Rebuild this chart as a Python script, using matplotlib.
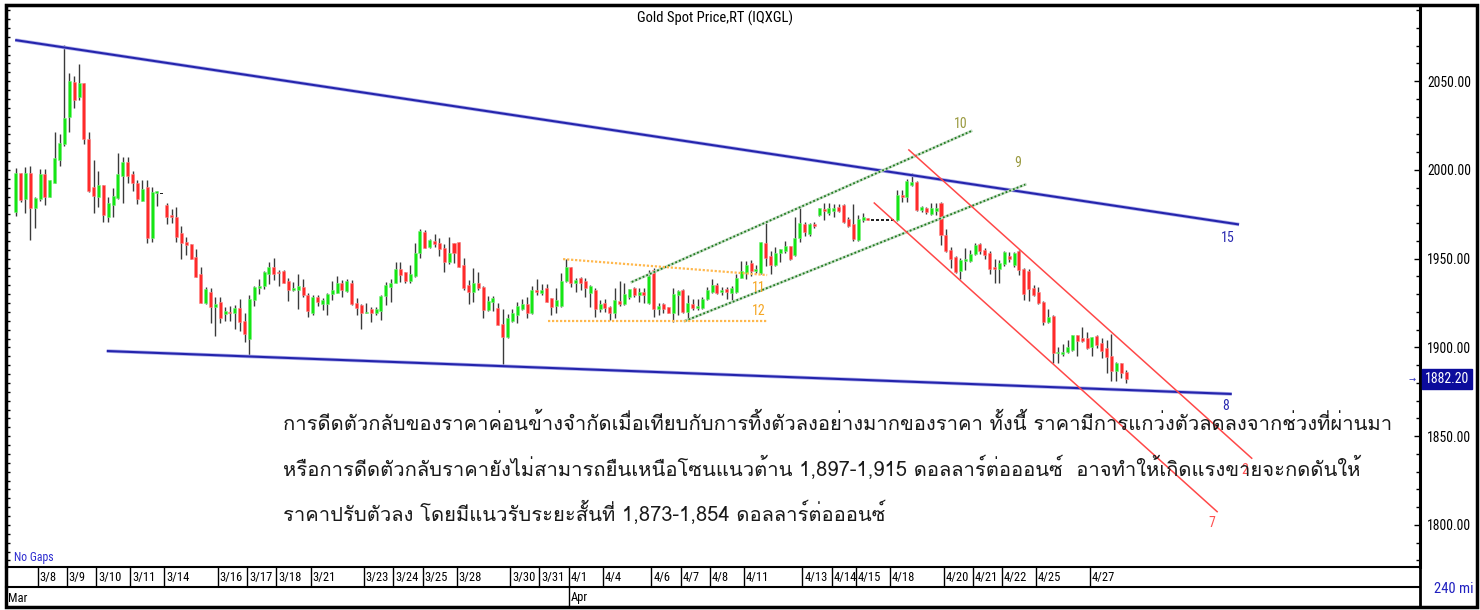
import os

import matplotlib
matplotlib.use("Agg")
import matplotlib.pyplot as plt
import matplotlib.transforms as mtransforms
from matplotlib import font_manager
from matplotlib.font_manager import FontProperties
from matplotlib.ft2font import FT2Font
from matplotlib.patches import Rectangle
from matplotlib.lines import Line2D
from matplotlib.ticker import MultipleLocator
import numpy as np


W, H = 1480, 610

# 240-minute gold spot candles, 7 Mar - 27 Apr
OPEN = [
    1976.5, 1998.5, 1983.4, 1998.5, 1978.4, 1983.4, 1997.5, 1984.9, 1992.8, 2005.6,
    2014.6, 2029.7, 2049.8, 2041.3, 2048.8, 2017.5, 1990.6, 1984.6, 1991.5, 1973.7,
    1980.2, 1984.0, 1996.6, 2004.3, 1997.5, 1992.5, 1982.5, 1990.6, 1961.5, 1986.8,
    1986.8, 1980.4, 1974.2, 1973.3, 1964.3, 1959.6, 1958.3, 1951.1, 1941.4, 1924.8,
    1931.4, 1922.7, 1925.4, 1918.7, 1920.2, 1919.3, 1922.4, 1915.1, 1904.6, 1926.7,
    1933.3, 1934.6, 1941.4, 1945.5, 1942.7, 1943.3, 1937.4, 1932.4, 1932.4, 1934.2,
    1929.6, 1919.3, 1928.3, 1924.5, 1924.5, 1930.1, 1930.9, 1936.1, 1932.0, 1936.1,
    1925.2, 1923.9, 1919.3, 1921.5, 1919.6, 1920.7, 1929.2, 1934.2, 1936.5, 1944.0,
    1942.7, 1937.4, 1940.4, 1953.4, 1965.2, 1956.8, 1960.2, 1958.7, 1956.2, 1948.3,
    1958.7, 1959.3, 1946.5, 1935.2, 1931.4, 1936.5, 1934.2, 1921.1, 1925.8, 1922.4,
    1913.2, 1906.1, 1915.1, 1918.3, 1921.5, 1924.3, 1919.3, 1932.4, 1930.5, 1933.3,
    1927.7, 1923.4, 1923.4, 1937.4, 1945.2, 1936.5, 1939.0, 1937.4, 1930.9, 1932.4,
    1921.5, 1925.2, 1923.0, 1919.3, 1926.3, 1924.5, 1928.3, 1933.3, 1929.6, 1931.4,
    1924.9, 1943.6, 1921.5, 1924.3, 1922.6, 1919.6, 1929.6, 1932.4, 1920.2, 1924.3,
    1922.1, 1922.1, 1927.3, 1931.4, 1935.2, 1931.1, 1932.8, 1930.9, 1931.4, 1939.3,
    1941.8, 1947.4, 1943.1, 1942.1, 1958.7, 1951.5, 1946.5, 1953.4, 1954.5, 1957.2,
    1952.1, 1961.5, 1969.6, 1963.9, 1969.6, 1974.6, 1977.8, 1975.9, 1977.1, 1979.3,
    1980.3, 1972.2, 1969.6, 1960.6, 1971.8, 1972.8, 1971.8, 1971.8, 1971.8, 1971.8,
    1971.8, 1971.8, 1985.9, 1984.9, 1991.5, 1993.4, 1977.5, 1978.4, 1975.2, 1977.1,
    1981.2, 1963.4, 1954.9, 1951.2, 1943.3, 1948.9, 1948.9, 1952.7, 1958.3, 1954.9,
    1953.4, 1945.2, 1944.0, 1947.0, 1951.5, 1946.5, 1954.5, 1944.0, 1943.3, 1933.3,
    1931.4, 1925.8, 1914.5, 1917.7, 1896.7, 1896.3, 1897.6, 1898.6, 1907.0, 1905.2,
    1905.2, 1900.1, 1906.5, 1902.4, 1899.5, 1895.2, 1886.9, 1891.4, 1886.4,
]
HIGH = [
    2001.3, 1998.5, 2001.8, 2002.4, 1984.9, 2000.3, 2000.3, 1994.3, 2021.6, 2020.3,
    2070.4, 2054.4, 2052.9, 2059.5, 2048.8, 2021.6, 2005.6, 1999.6, 1991.5, 1984.6,
    1989.6, 2009.4, 2007.5, 2007.5, 1999.4, 1994.3, 1994.3, 1994.3, 1990.6, 1988.3,
    1986.8, 1981.2, 1977.8, 1979.3, 1968.4, 1962.4, 1958.3, 1955.3, 1945.5, 1934.2,
    1933.3, 1928.6, 1928.3, 1923.0, 1923.4, 1923.9, 1927.3, 1919.3, 1929.6, 1934.6,
    1938.6, 1943.3, 1948.3, 1950.6, 1943.6, 1943.6, 1939.3, 1937.0, 1941.4, 1938.6,
    1930.5, 1929.6, 1929.6, 1928.0, 1930.5, 1937.4, 1940.3, 1938.0, 1938.4, 1938.0,
    1927.7, 1924.3, 1925.2, 1922.6, 1923.0, 1929.6, 1937.0, 1938.6, 1948.3, 1948.3,
    1942.7, 1946.5, 1958.7, 1966.6, 1966.2, 1960.9, 1963.8, 1961.5, 1958.2, 1962.4,
    1958.7, 1959.3, 1950.2, 1938.0, 1945.0, 1942.4, 1934.6, 1929.0, 1929.0, 1924.9,
    1921.5, 1918.7, 1921.5, 1925.8, 1927.1, 1928.3, 1934.6, 1938.4, 1935.8, 1935.8,
    1928.0, 1933.3, 1941.8, 1949.7, 1945.2, 1939.0, 1939.9, 1939.0, 1935.2, 1933.3,
    1926.7, 1927.3, 1923.4, 1933.3, 1937.4, 1936.5, 1932.8, 1934.2, 1933.3, 1933.3,
    1943.6, 1944.6, 1925.2, 1925.2, 1922.6, 1933.3, 1932.4, 1932.8, 1929.6, 1927.1,
    1927.1, 1928.6, 1933.9, 1938.4, 1936.5, 1933.9, 1933.9, 1934.6, 1941.4, 1948.7,
    1948.7, 1949.3, 1946.5, 1959.6, 1970.3, 1954.4, 1956.4, 1955.3, 1960.2, 1957.2,
    1973.3, 1978.4, 1970.9, 1970.3, 1970.9, 1978.4, 1981.2, 1981.2, 1980.8, 1980.8,
    1980.8, 1973.3, 1980.7, 1974.6, 1975.9, 1973.0, 1971.8, 1971.8, 1971.8, 1971.8,
    1971.8, 1988.7, 1988.7, 1994.8, 1998.5, 1994.0, 1979.7, 1979.3, 1981.2, 1981.2,
    1982.1, 1966.6, 1956.4, 1951.5, 1950.2, 1955.9, 1954.9, 1958.7, 1958.7, 1955.9,
    1954.5, 1949.7, 1949.3, 1954.5, 1954.0, 1954.0, 1954.9, 1944.6, 1944.0, 1935.2,
    1934.2, 1926.2, 1921.5, 1918.3, 1900.4, 1902.0, 1904.2, 1907.0, 1907.0, 1911.4,
    1908.9, 1906.1, 1907.0, 1905.2, 1904.2, 1907.6, 1892.0, 1891.4, 1887.3,
]
LOW = [
    1974.2, 1982.1, 1975.5, 1960.5, 1967.5, 1982.5, 1980.2, 1984.6, 1992.5, 2002.2,
    2013.5, 2021.6, 2034.7, 2039.4, 2014.6, 1987.8, 1975.5, 1979.3, 1970.9, 1970.5,
    1973.7, 1983.4, 1981.6, 1992.5, 1988.3, 1980.6, 1982.5, 1958.6, 1959.6, 1979.7,
    1986.8, 1969.4, 1970.3, 1959.6, 1949.6, 1952.1, 1949.6, 1939.5, 1924.8, 1924.5,
    1913.6, 1906.5, 1913.6, 1915.1, 1915.1, 1910.2, 1909.5, 1903.3, 1895.2, 1923.5,
    1930.1, 1932.9, 1935.8, 1938.0, 1934.6, 1936.3, 1926.3, 1932.0, 1921.5, 1928.3,
    1917.3, 1918.3, 1923.4, 1921.1, 1918.3, 1926.7, 1930.5, 1928.6, 1931.4, 1923.9,
    1918.3, 1910.2, 1919.3, 1914.2, 1918.3, 1915.5, 1923.9, 1925.8, 1936.1, 1937.0,
    1936.1, 1936.1, 1939.9, 1950.6, 1955.9, 1955.9, 1956.8, 1951.7, 1942.4, 1947.0,
    1947.4, 1945.5, 1932.4, 1924.3, 1925.8, 1932.4, 1916.4, 1920.7, 1920.7, 1912.7,
    1890.1, 1905.2, 1914.2, 1913.6, 1921.1, 1916.4, 1918.7, 1929.6, 1929.6, 1925.8,
    1918.3, 1919.3, 1923.0, 1937.0, 1934.2, 1931.4, 1932.4, 1928.3, 1922.6, 1917.3,
    1920.2, 1920.2, 1915.5, 1916.4, 1923.4, 1923.9, 1927.1, 1928.6, 1925.8, 1924.9,
    1924.5, 1917.3, 1918.3, 1919.3, 1919.3, 1914.5, 1918.3, 1919.3, 1915.5, 1921.1,
    1921.1, 1921.5, 1926.7, 1930.9, 1930.1, 1929.6, 1927.1, 1926.7, 1930.5, 1939.0,
    1938.4, 1940.3, 1941.8, 1941.4, 1945.9, 1941.4, 1945.9, 1948.3, 1953.1, 1949.3,
    1951.5, 1959.6, 1962.8, 1962.8, 1967.1, 1974.1, 1971.8, 1974.6, 1973.3, 1976.5,
    1970.3, 1967.7, 1960.2, 1960.2, 1970.9, 1971.6, 1971.8, 1971.8, 1971.8, 1971.8,
    1971.8, 1971.4, 1982.1, 1982.1, 1991.0, 1977.1, 1976.5, 1975.2, 1974.6, 1974.6,
    1957.7, 1954.0, 1944.6, 1941.8, 1938.4, 1943.6, 1948.3, 1952.1, 1952.7, 1949.7,
    1941.4, 1936.5, 1936.1, 1945.9, 1948.3, 1945.5, 1940.8, 1926.7, 1926.3, 1929.0,
    1924.5, 1912.7, 1913.6, 1891.4, 1891.4, 1895.2, 1896.7, 1898.2, 1895.2, 1903.3,
    1899.0, 1895.2, 1899.5, 1893.9, 1885.5, 1881.3, 1881.3, 1882.6, 1880.2,
]
CLOSE = [
    1998.5, 1983.1, 1998.5, 1978.4, 1984.4, 1997.5, 1984.6, 1994.3, 2006.6, 2015.4,
    2029.5, 2050.3, 2039.4, 2048.8, 2017.5, 1988.3, 1985.3, 1991.5, 1974.6, 1981.6,
    1985.5, 1997.5, 2004.7, 1996.6, 1992.5, 1983.4, 1989.3, 1961.5, 1987.8, 1988.3,
    1986.8, 1973.7, 1973.7, 1962.4, 1958.6, 1957.7, 1949.6, 1939.9, 1925.2, 1932.7,
    1923.0, 1924.5, 1916.4, 1920.5, 1919.3, 1922.4, 1914.5, 1907.4, 1927.3, 1934.2,
    1934.6, 1942.7, 1945.5, 1941.4, 1941.8, 1936.5, 1932.4, 1933.7, 1934.6, 1929.6,
    1920.5, 1928.6, 1925.8, 1926.7, 1930.1, 1932.4, 1936.1, 1932.4, 1937.4, 1924.3,
    1922.1, 1919.6, 1920.2, 1919.6, 1921.7, 1929.2, 1935.2, 1936.1, 1944.2, 1940.8,
    1937.4, 1941.2, 1953.4, 1965.6, 1955.9, 1960.6, 1958.3, 1955.5, 1948.3, 1953.1,
    1953.1, 1945.5, 1933.7, 1931.4, 1936.5, 1933.3, 1921.1, 1926.3, 1927.7, 1912.7,
    1906.1, 1916.4, 1919.3, 1923.4, 1924.3, 1919.3, 1932.4, 1931.4, 1932.4, 1925.8,
    1922.6, 1926.7, 1937.4, 1945.2, 1936.1, 1938.0, 1936.5, 1933.3, 1934.6, 1921.5,
    1924.3, 1922.1, 1919.3, 1926.7, 1924.5, 1930.1, 1932.8, 1929.6, 1931.4, 1929.6,
    1940.3, 1921.5, 1923.4, 1921.5, 1919.6, 1930.1, 1931.8, 1920.2, 1925.2, 1922.1,
    1923.4, 1927.3, 1932.4, 1935.2, 1930.5, 1932.4, 1931.1, 1933.3, 1939.3, 1943.1,
    1946.5, 1943.3, 1944.2, 1959.3, 1950.2, 1946.5, 1953.4, 1955.3, 1957.2, 1949.7,
    1961.5, 1970.0, 1965.2, 1969.6, 1968.4, 1978.4, 1977.1, 1978.4, 1978.4, 1977.1,
    1970.9, 1968.4, 1961.0, 1972.2, 1973.3, 1971.8, 1971.8, 1971.8, 1971.8, 1971.8,
    1971.8, 1985.9, 1984.9, 1994.0, 1993.4, 1977.5, 1979.3, 1976.5, 1978.4, 1978.4,
    1963.4, 1954.5, 1949.7, 1942.7, 1949.3, 1949.7, 1952.7, 1957.7, 1954.5, 1952.1,
    1944.0, 1944.0, 1947.8, 1954.0, 1949.7, 1953.4, 1943.6, 1930.1, 1932.8, 1929.6,
    1925.2, 1914.5, 1917.3, 1897.1, 1897.6, 1897.6, 1900.4, 1907.0, 1903.8, 1903.8,
    1899.5, 1905.7, 1901.4, 1898.2, 1894.5, 1886.9, 1891.4, 1885.8, 1882.2,
]
LAST_PRICE = 1882.20
PRICE_TICKS = [1800, 1850, 1900, 1950, 2000, 2050]

# first candle of each labelled day (bar index)
DAY_LABELS = ["3/8", "3/9", "3/10", "3/11", "3/14", "3/16", "3/17", "3/18", "3/21", "3/23",
              "3/24", "3/25", "3/28", "3/30", "3/31", "4/1", "4/4", "4/6", "4/7", "4/8",
              "4/11", "4/13", "4/14", "4/15", "4/18", "4/20", "4/21", "4/22", "4/25", "4/27"]
DAY_START = [5, 11, 17, 24, 31, 42, 48, 54, 61, 72,
             78, 84, 91, 102, 108, 114, 121, 131, 137, 143,
             150, 162, 168, 173, 180, 191, 197, 203, 210, 221]
MONTH_LABELS = ["Mar", "Apr"]
MONTH_START = [-1.5, 114]

# analyst drawings: (bar index, price) end points
TREND_TOP = ([-0.1, 251.2], [2073.2, 1969.3])
TREND_BOTTOM = ([18.7, 249.7], [1898.0, 1873.8])
CHAN_UP_HIGH = ([126.5, 196.2], [1936.9, 2021.9])
CHAN_UP_LOW = ([137.4, 207.3], [1914.9, 1991.8])
BOX_TOP = ([112.4, 154.3], [1949.8, 1940.8])
BOX_BOTTOM = ([109.3, 154.3], [1915.1, 1915.1])
CHAN_DN_HIGH = ([183.4, 253.8], [2011.3, 1837.6])
CHAN_DN_LOW = ([176.3, 246.7], [1981.4, 1807.5])
LINE_TAGS = [
    ("15", 248.9, 1961.7, "#2a2ab0"),
    ("8", 248.5, 1867.0, "#2a2ab0"),
    ("10", 194.1, 2025.9, "#9a9a40"),
    ("9", 205.8, 2003.9, "#9a9a40"),
    ("11", 152.6, 1933.5, "#f5a623"),
    ("12", 152.6, 1920.5, "#f5a623"),
    ("7", 245.7, 1801.1, "#ff5050"),
    ("2", 252.4, 1831.0, "#ff5050"),
]

TITLE = "Gold Spot Price,RT (IQXGL)"
NOTE_LINES = [
    "การดีดตัวกลับของราคาค่อนข้างจำกัดเมื่อเทียบกับการทิ้งตัวลงอย่างมากของราคา ทั้งนี้ ราคามีการแกว่งตัวลดลงจากช่วงที่ผ่านมา",
    "หรือการดีดตัวกลับราคายังไม่สามารถยืนเหนือโซนแนวต้าน 1,897-1,915 ดอลลาร์ต่อออนซ์  อาจทำให้เกิดแรงขายจะกดดันให้",
    "ราคาปรับตัวลง โดยมีแนวรับระยะสั้นที่ 1,873-1,854 ดอลลาร์ต่อออนซ์",
]


def _font_with(char):
    for f in font_manager.fontManager.ttflist:
        try:
            if ord(char) in FT2Font(f.fname).get_charmap():
                return f.name
        except Exception:
            continue
    return "DejaVu Sans"


def _narrow_file():
    files = [f.fname for f in font_manager.fontManager.ttflist]
    prefs = ["liberationsansnarrow-regular", "robotocondensed-regular", "dejavusanscondensed.",
             "notosans-condensed.", "opensans_condensed-regular", "opensans-condensed",
             "notosans-semicondensed."]
    for p in prefs:
        for f in files:
            if p in os.path.basename(f).lower():
                return f
    for f in files:
        b = os.path.basename(f).lower()
        if ("condensed" in b or "narrow" in b) and not any(
                k in b for k in ("bold", "italic", "light", "thin", "black", "medium", "oblique")):
            return f
    return None


def _fx(px):
    return px / W


def _fy(py):
    return 1 - py / H


def main():
    thai = _font_with("ก")
    nfile = _narrow_file()

    def nf(size):
        if nfile:
            return FontProperties(fname=nfile, size=size)
        return FontProperties(family="DejaVu Sans", size=size * 0.85)

    o, h, l, c = (np.array(a) for a in (OPEN, HIGH, LOW, CLOSE))
    idx = np.arange(len(o))

    fig = plt.figure(figsize=(W / 100, H / 100), dpi=100, facecolor="white")
    x_left, x_right, y_top, y_bot = 6, 1420, 5, 567
    ax = fig.add_axes([_fx(x_left), _fy(y_bot), _fx(x_right - x_left), (y_bot - y_top) / H])
    bar_px = 4.87
    ax.set_xlim((x_left - 15.7) / bar_px, (x_right - 15.7) / bar_px)
    ax.set_ylim(2095.77 - 0.5634 * y_bot, 2095.77 - 0.5634 * y_top)

    # candles
    flat = h == l
    up = (c >= o) & ~flat
    dn = (c < o) & ~flat
    ax.vlines(idx[~flat], l[~flat], h[~flat], color="#3a3a3a", lw=1.0, zorder=2)
    body = np.maximum(np.abs(c - o), 0.7)
    base = np.minimum(o, c)
    ax.bar(idx[up], body[up], bottom=base[up], width=0.62, color="#14e614",
           edgecolor="#80f080", linewidth=0.4, zorder=3)
    ax.bar(idx[dn], body[dn], bottom=base[dn], width=0.62, color="#ff2a2a",
           edgecolor="#ff8a8a", linewidth=0.4, zorder=3)
    ax.bar(idx[flat], 0.9, bottom=c[flat] - 0.45, width=0.62, color="#222222", zorder=3)

    # drawings
    for xs, ys in (TREND_TOP, TREND_BOTTOM):
        ax.plot(xs, ys, color="#b0b0ec", lw=2.6, solid_capstyle="butt", zorder=4)
        ax.plot(xs, ys, color="#2424ac", lw=1.5, solid_capstyle="butt", zorder=4)
    for xs, ys in (CHAN_UP_HIGH, CHAN_UP_LOW):
        ax.plot(xs, ys, color="#c4dcc4", lw=2.0, zorder=4)
        ax.plot(xs, ys, color="#1f7a1f", lw=1.3, ls=(0, (1, 1.2)), zorder=4)
    for xs, ys in (BOX_TOP, BOX_BOTTOM):
        ax.plot(xs, ys, color="#ffb84d", lw=1.6, ls=(0, (1, 0.8)), zorder=4)
    for xs, ys in (CHAN_DN_HIGH, CHAN_DN_LOW):
        ax.plot(xs, ys, color="#ff4848", lw=1.1, zorder=4)
    for txt, x, y, col in LINE_TAGS:
        ax.text(x, y, txt, color=col, ha="center", va="center", zorder=4,
                fontproperties=nf(10))

    # axes dressing
    for side in ("top", "left", "right"):
        ax.spines[side].set_linewidth(2.2)
    ax.spines["bottom"].set_linewidth(1.5)
    ax.set_xticks([])
    ax.yaxis.set_major_locator(MultipleLocator(5))
    ax.tick_params(axis="y", which="both", direction="in", length=3, width=1,
                   labelleft=False, left=True, right=False)

    ax2 = ax.twinx()
    ax2.set_ylim(ax.get_ylim())
    ax2.set_yticks(PRICE_TICKS)
    ax2.set_yticklabels([f"{v:.2f}" for v in PRICE_TICKS], fontproperties=nf(9.8))
    ax2.yaxis.set_minor_locator(MultipleLocator(10))
    ax2.tick_params(axis="y", which="major", direction="in", length=4, width=1, pad=5)
    ax2.tick_params(axis="y", which="minor", direction="in", length=3, width=1)
    for sp in ax2.spines.values():
        sp.set_visible(False)

    trans = mtransforms.blended_transform_factory(ax.transAxes, ax.transData)
    ax.text(1.0, LAST_PRICE, f"{LAST_PRICE:.2f}",
            transform=mtransforms.offset_copy(trans, fig=fig, x=5, y=0, units="dots"),
            color="white", ha="left", va="center", zorder=6, clip_on=False,
            fontproperties=nf(10),
            bbox=dict(boxstyle="square,pad=0.2", fc="#0c0c9c", ec="#0c0c9c"))
    ax.text(1.0, LAST_PRICE, "→",
            transform=mtransforms.offset_copy(trans, fig=fig, x=-8, y=0, units="dots"),
            color="#3030c0", fontsize=6, ha="center", va="center", clip_on=False,
            family="DejaVu Sans")

    # date row and month row
    for y0, y1, labels, starts in ((567, 587, DAY_LABELS, DAY_START),
                                   (587, 607, MONTH_LABELS, MONTH_START)):
        dax = fig.add_axes([_fx(x_left), _fy(y1), _fx(x_right - x_left), (y1 - y0) / H])
        dax.set_xlim(ax.get_xlim())
        dax.set_ylim(0, 1)
        dax.axis("off")
        for lab, s in zip(labels, starts):
            dax.axvline(s - 0.45, color="black", lw=1.0)
            dax.text(s - 0.45 + 0.35, 0.45, lab, ha="left", va="center", fontproperties=nf(9))
    fig.add_artist(Line2D([_fx(x_left), _fx(x_right)], [_fy(587)] * 2, color="black", lw=1.5))
    fig.add_artist(Line2D([_fx(x_right)] * 2, [_fy(567), _fy(607)], color="black", lw=2.0))
    fig.add_artist(Rectangle((_fx(x_left), _fy(607)), _fx(1477 - x_left), (607 - y_top) / H,
                             transform=fig.transFigure, fill=False, ec="black", lw=2.5))

    fig.text(_fx(715), _fy(18), TITLE, ha="center", va="center", fontproperties=nf(10.5))
    fig.text(_fx(14), _fy(557), "No Gaps", ha="left", va="center", color="#2b2bd0",
             fontproperties=nf(8.5))
    fig.text(_fx(1473), _fy(589), "240 mi", ha="right", va="center", color="#2020c0",
             fontproperties=nf(10.5))

    for k, line in enumerate(NOTE_LINES):
        fig.text(_fx(283), _fy(423 + 45 * k), line, ha="left", va="center", fontsize=14.5,
                 color="#1a1a1a", family=[thai, "DejaVu Sans"], zorder=5)

    fig.savefig("out.png", dpi=100, facecolor="white")
    plt.close(fig)


if __name__ == "__main__":
    main()
